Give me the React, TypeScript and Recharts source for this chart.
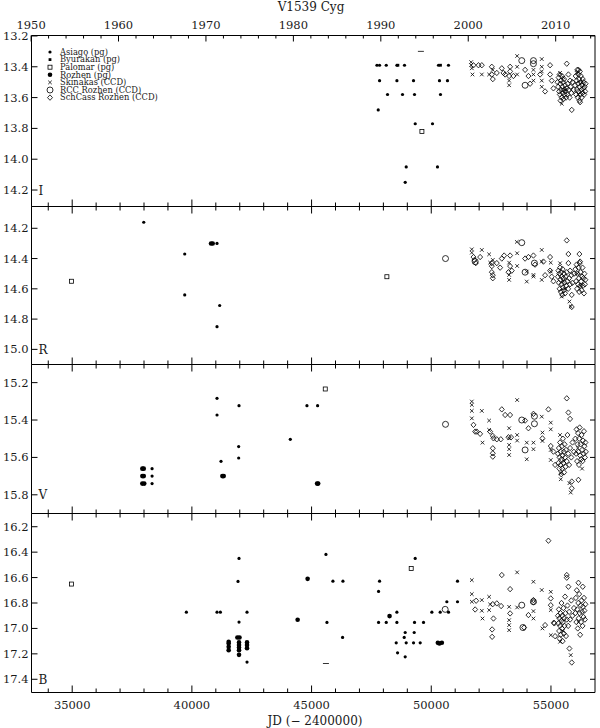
import React from 'react';
import { ScatterChart, Scatter, XAxis, YAxis } from 'recharts';

type Pt = [number, number];

// axis ticks
const JD_TICKS = [34000, 35000, 36000, 37000, 38000, 39000, 40000, 41000, 42000, 43000, 44000, 45000,
  46000, 47000, 48000, 49000, 50000, 51000, 52000, 53000, 54000, 55000, 56000];
const JD_LABELS = [35000, 40000, 45000, 50000, 55000];
const YEAR_TICKS = [1950, 1952, 1954, 1956, 1958, 1960, 1962, 1964, 1966, 1968, 1970, 1972, 1974, 1976,
  1978, 1980, 1982, 1984, 1986, 1988, 1990, 1992, 1994, 1996, 1998, 2000, 2002, 2004, 2006, 2008, 2010, 2012, 2014];
const YEAR_LABELS = [1950, 1960, 1970, 1980, 1990, 2000, 2010];
const I_TICKS = [13.2, 13.4, 13.6, 13.8, 14.0, 14.2];
const R_TICKS = [14.2, 14.4, 14.6, 14.8, 15.0];
const V_TICKS = [15.2, 15.4, 15.6, 15.8];
const B_TICKS = [16.2, 16.4, 16.6, 16.8, 17.0, 17.2, 17.4];

// ---- I band
const iAsiago: Pt[] = [
  [47731, 13.39], [47840, 13.39], [48119, 13.39], [48565, 13.39], [48882, 13.39], [50302, 13.39], [50719, 13.39],
  [47840, 13.49], [48565, 13.49], [49258, 13.49], [50343, 13.49], [50677, 13.49],
  [48173, 13.58], [48799, 13.58], [49300, 13.58], [50385, 13.58],
  [47785, 13.68], [49330, 13.77], [50052, 13.77], [48953, 14.05], [50260, 14.05], [48912, 14.15],
];
const iByurakan: Pt[] = [[48606, 13.39], [50385, 13.39]];
const iPalomar: Pt[] = [[49609, 13.82]];
const iLimit: Pt[] = [[49567, 13.3]];
const iSkinakas: Pt[] = [
  [51666, 13.37], [51666, 13.39], [51694, 13.41], [51722, 13.45], [52112, 13.45], [52417, 13.45], [52571, 13.42],
  [53253, 13.49], [53253, 13.52], [53587, 13.33], [53587, 13.4], [53587, 13.45], [54268, 13.42], [54268, 13.45],
  [54268, 13.49], [54616, 13.35], [54616, 13.4], [54616, 13.43], [54616, 13.49], [54616, 13.53], [55381, 13.44],
  [55451, 13.64], [55520, 13.47], [55590, 13.55], [56077, 13.44], [56147, 13.58], [56286, 13.5],
];
const iRcc: Pt[] = [[53781, 13.36], [54268, 13.36], [54268, 13.38], [53920, 13.52]];
const iSchCass: Pt[] = [
  [51764, 13.39], [51972, 13.39], [52112, 13.39], [52529, 13.4], [52529, 13.45], [52571, 13.48], [52738, 13.44],
  [52947, 13.41], [53016, 13.44], [53086, 13.45], [53294, 13.4], [53294, 13.43], [53253, 13.46], [53433, 13.46],
  [53920, 13.42], [54060, 13.46], [54129, 13.51], [54546, 13.45], [54755, 13.56], [54964, 13.39], [54964, 13.45],
  [55033, 13.49], [55103, 13.54], [55660, 13.38], [55729, 13.45], [55799, 13.49], [55869, 13.68], [56147, 13.42],
  [56217, 13.63],
  [55270, 13.5], [55300, 13.53], [55320, 13.47], [55340, 13.56], [55360, 13.45], [55370, 13.58], [55390, 13.51],
  [55400, 13.62], [55420, 13.49], [55430, 13.55], [55450, 13.6], [55460, 13.46], [55480, 13.53], [55490, 13.57],
  [55510, 13.5], [55520, 13.61], [55540, 13.55], [55550, 13.48], [55570, 13.58], [55590, 13.52], [55610, 13.56],
  [55630, 13.6], [55650, 13.54], [55680, 13.58], [55700, 13.51], [55750, 13.55], [55780, 13.6], [55820, 13.53],
  [55850, 13.57], [55900, 13.5], [55950, 13.55],
  [56010, 13.52], [56030, 13.46], [56050, 13.58], [56070, 13.49], [56090, 13.55], [56100, 13.42], [56120, 13.6],
  [56130, 13.51], [56150, 13.45], [56160, 13.56], [56180, 13.48], [56190, 13.62], [56200, 13.53], [56210, 13.43],
  [56230, 13.58], [56240, 13.5], [56250, 13.46], [56270, 13.55], [56280, 13.6], [56300, 13.52], [56320, 13.57],
  [56330, 13.48], [56350, 13.54], [56370, 13.5], [56390, 13.58], [56410, 13.53], [56430, 13.56], [56450, 13.51],
];

// ---- R band
const rAsiago: Pt[] = [[37990, 14.16], [39701, 14.37], [39701, 14.64], [41050, 14.3], [41162, 14.71], [41050, 14.85]];
const rRozhen: Pt[] = [[40800, 14.3], [40870, 14.3]];
const rPalomar: Pt[] = [[34971, 14.55], [48146, 14.52]];
const rRcc: Pt[] = [[50595, 14.4], [51833, 14.42], [53781, 14.295], [53920, 14.49], [54310, 14.43]];
const rSkinakas: Pt[] = [
  [51694, 14.339], [51694, 14.361], [52112, 14.343], [52417, 14.372], [52459, 14.427], [52571, 14.409],
  [53253, 14.427], [53253, 14.508], [53253, 14.541], [53573, 14.29], [53587, 14.365], [53587, 14.449],
  [53990, 14.486], [53990, 14.552], [54268, 14.508], [54268, 14.519], [54616, 14.343], [54616, 14.42],
  [54616, 14.541], [54992, 14.427], [54992, 14.486], [55381, 14.431], [55451, 14.651], [55771, 14.684],
  [55827, 14.717], [55500, 14.55], [55600, 14.6], [56100, 14.5], [56250, 14.58],
];
const rSchCass: Pt[] = [
  [51764, 14.39], [51800, 14.41], [51860, 14.43], [52042, 14.39], [52529, 14.43], [52529, 14.45], [52529, 14.49],
  [52571, 14.51], [52571, 14.53], [52738, 14.43], [52877, 14.46], [52947, 14.4], [53044, 14.38], [53294, 14.38],
  [53294, 14.45], [53225, 14.49], [53364, 14.48], [53920, 14.4], [54060, 14.39], [54268, 14.38], [54338, 14.44],
  [54685, 14.42], [54755, 14.51], [54964, 14.39], [54964, 14.48], [55033, 14.52], [55103, 14.55], [55660, 14.28],
  [55729, 14.37], [55729, 14.43], [55799, 14.48], [55869, 14.64], [55869, 14.72], [56189, 14.37], [56217, 14.42],
  [55290, 14.52], [55310, 14.48], [55330, 14.56], [55350, 14.5], [55360, 14.6], [55380, 14.46], [55400, 14.54],
  [55410, 14.62], [55430, 14.49], [55440, 14.57], [55460, 14.52], [55470, 14.64], [55490, 14.47], [55500, 14.59],
  [55520, 14.53], [55540, 14.61], [55550, 14.5], [55570, 14.56], [55590, 14.63], [55610, 14.52], [55630, 14.58],
  [55660, 14.49], [55690, 14.55], [55720, 14.6], [55760, 14.53], [55800, 14.57], [55850, 14.51], [55900, 14.56],
  [55960, 14.5],
  [56020, 14.47], [56050, 14.55], [56070, 14.44], [56090, 14.6], [56110, 14.5], [56130, 14.57], [56150, 14.46],
  [56170, 14.53], [56180, 14.62], [56200, 14.43], [56220, 14.58], [56240, 14.49], [56260, 14.55], [56280, 14.61],
  [56300, 14.52], [56320, 14.46], [56340, 14.58], [56360, 14.53], [56380, 14.63], [56400, 14.5], [56420, 14.57],
  [56440, 14.54],
];

// ---- V band
const vAsiago: Pt[] = [
  [38337, 15.66], [38337, 15.7], [38337, 15.74], [41050, 15.284], [41050, 15.373], [41969, 15.323], [41217, 15.621],
  [41955, 15.542], [41955, 15.603], [44111, 15.503], [44807, 15.323], [45252, 15.323],
];
const vRozhen: Pt[] = [
  [37930, 15.66], [37990, 15.66], [37930, 15.7], [37990, 15.7], [37930, 15.74], [38010, 15.74],
  [41273, 15.7], [41329, 15.7], [45230, 15.74], [45275, 15.74],
];
const vPalomar: Pt[] = [[45572, 15.234]];
const vRcc: Pt[] = [[50595, 15.423], [53781, 15.4], [53920, 15.56], [54310, 15.38], [54310, 15.42]];
const vSkinakas: Pt[] = [
  [51694, 15.301], [51694, 15.319], [51694, 15.351], [51694, 15.391], [52112, 15.351], [52140, 15.521],
  [52417, 15.403], [52417, 15.453], [53253, 15.444], [53253, 15.498], [53253, 15.533], [53253, 15.556],
  [53253, 15.587], [53587, 15.293], [53587, 15.48], [53587, 15.51], [53990, 15.521], [53990, 15.61],
  [54268, 15.521], [54268, 15.556], [54616, 15.382], [54644, 15.467], [54644, 15.512], [54992, 15.414],
  [54992, 15.45], [54992, 15.56], [54992, 15.614], [55381, 15.48], [55409, 15.685], [55409, 15.717],
  [55771, 15.738], [55827, 15.788], [55550, 15.62], [56120, 15.55], [56300, 15.66],
];
const vSchCass: Pt[] = [
  [51764, 15.426], [51833, 15.462], [51903, 15.462], [52042, 15.474], [52459, 15.462], [52571, 15.485],
  [52598, 15.498], [52571, 15.551], [52571, 15.578], [52571, 15.596], [52738, 15.503], [52905, 15.503],
  [52947, 15.343], [53086, 15.373], [53294, 15.373], [53225, 15.492], [53336, 15.492], [53920, 15.403],
  [54060, 15.444], [54268, 15.367], [54644, 15.498], [54894, 15.343], [54992, 15.539], [55103, 15.569],
  [55173, 15.64], [55660, 15.284], [55729, 15.36], [55799, 15.394], [55869, 15.729], [55869, 15.765], [56147, 15.72],
  [55290, 15.58], [55310, 15.63], [55330, 15.55], [55350, 15.66], [55360, 15.6], [55380, 15.52], [55400, 15.64],
  [55410, 15.57], [55430, 15.69], [55440, 15.61], [55460, 15.54], [55470, 15.66], [55490, 15.59], [55500, 15.5],
  [55520, 15.63], [55540, 15.57], [55550, 15.68], [55570, 15.53], [55590, 15.6], [55610, 15.65], [55630, 15.56],
  [55660, 15.62], [55690, 15.48], [55720, 15.58], [55760, 15.64], [55800, 15.55], [55850, 15.6], [55900, 15.52],
  [55960, 15.57],
  [56020, 15.5], [56050, 15.58], [56070, 15.45], [56090, 15.62], [56110, 15.53], [56130, 15.47], [56150, 15.57],
  [56170, 15.64], [56180, 15.5], [56200, 15.44], [56220, 15.59], [56240, 15.53], [56260, 15.61], [56280, 15.48],
  [56300, 15.56], [56320, 15.62], [56340, 15.51], [56360, 15.58], [56380, 15.46], [56400, 15.54], [56420, 15.6],
  [56440, 15.52], [56460, 15.57],
];

// ---- B band
const bAsiago: Pt[] = [
  [39770, 16.872], [41050, 16.872], [41190, 16.872], [41969, 16.449], [41927, 16.63], [42303, 16.872],
  [41969, 16.95], [42303, 17.265], [45600, 16.418], [45892, 16.628], [46310, 16.628], [45642, 16.953],
  [46296, 17.071], [49329, 16.449], [47840, 16.628], [47799, 16.709], [47799, 16.953], [48119, 16.953],
  [48564, 16.953], [48564, 16.872], [48536, 17.113], [48592, 17.192], [48911, 17.032], [48870, 17.071],
  [48953, 17.113], [49259, 17.113], [49538, 17.113], [48911, 17.223], [49301, 16.953], [49677, 16.953],
  [49287, 17.032], [50025, 16.872], [50373, 16.872], [50651, 16.79], [50720, 16.872], [51096, 16.79], [51096, 16.628],
];
const bRozhen: Pt[] = [
  [41537, 17.105], [41537, 17.118], [41537, 17.145], [41537, 17.171], [41900, 17.071], [41990, 17.071],
  [41969, 17.11], [41969, 17.131], [41969, 17.15], [41969, 17.171], [41969, 17.208], [42303, 17.11],
  [42303, 17.131], [42303, 17.155], [44418, 16.932], [44835, 16.61], [48258, 16.903], [50275, 17.113],
  [50340, 17.118], [50442, 17.113],
];
const bPalomar: Pt[] = [[34971, 16.651], [49162, 16.528]];
const bLimit: Pt[] = [[45600, 17.276]];
const bRcc: Pt[] = [[50581, 16.85], [53781, 16.817], [53830, 16.993], [54268, 16.79]];
const bSkinakas: Pt[] = [
  [51694, 16.62], [51694, 16.73], [51694, 16.79], [52112, 16.777], [52112, 16.861], [52140, 16.922],
  [52417, 16.751], [52417, 16.856], [52459, 16.811], [53253, 16.83], [53253, 16.935], [53253, 16.974],
  [53253, 17.014], [53587, 16.559], [53587, 16.835], [54268, 16.633], [54268, 16.864], [54268, 16.922],
  [54616, 16.698], [54644, 17.0], [54992, 16.712], [54992, 16.856], [54992, 17.053], [55381, 17.105],
  [55827, 17.21], [55500, 17.02], [56150, 16.95],
];
const bSchCass: Pt[] = [
  [51833, 16.851], [51875, 16.782], [52571, 16.809], [52598, 16.922], [52543, 17.008], [52543, 17.066],
  [52738, 16.803], [52919, 16.824], [52947, 16.58], [53294, 16.691], [53294, 16.882], [53878, 16.993],
  [54060, 16.895], [54268, 16.777], [54268, 16.795], [54755, 16.974], [54894, 16.31], [54992, 16.764],
  [54992, 16.817], [55120, 16.955], [55140, 16.96], [55173, 17.061], [55660, 16.58], [55660, 16.601],
  [55729, 16.672], [55771, 17.158], [55869, 17.268], [56147, 16.641], [56328, 16.672],
  [55290, 16.9], [55310, 16.96], [55330, 16.85], [55340, 17.02], [55350, 16.92], [55360, 17.08], [55380, 16.98],
  [55400, 16.88], [55410, 17.05], [55430, 16.94], [55440, 16.8], [55460, 17.0], [55470, 16.9], [55490, 17.1],
  [55500, 16.95], [55520, 16.84], [55540, 17.04], [55550, 16.92], [55570, 16.98], [55590, 16.75], [55610, 16.88],
  [55630, 17.06], [55660, 16.93], [55690, 16.82], [55720, 16.98], [55760, 16.87], [55800, 16.93], [55850, 16.78],
  [55900, 16.9], [55960, 16.84],
  [56020, 16.88], [56040, 16.76], [56060, 16.95], [56080, 16.7], [56100, 16.85], [56120, 17.0], [56140, 16.8],
  [56160, 16.92], [56180, 16.73], [56200, 16.88], [56220, 17.05], [56240, 16.82], [56260, 16.95], [56280, 16.78],
  [56300, 16.87], [56320, 16.98], [56340, 16.83], [56360, 16.91], [56380, 16.76], [56400, 16.86], [56420, 16.93],
  [56440, 16.81],
];

const LEGEND: [string, string][] = [
  ['asiago', 'Asiago (pg)'],
  ['byurakan', 'Byurakan (pg)'],
  ['palomar', 'Palomar (pg)'],
  ['rozhen', 'Rozhen (pg)'],
  ['skinakas', 'Skinakas (CCD)'],
  ['rcc', 'RCC Rozhen (CCD)'],
  ['schcass', 'SchCass Rozhen (CCD)'],
];

const W = 600;
const H = 728;
const JD_DOMAIN = [33300, 56840];
const FONT = "'DejaVu Serif', 'Liberation Serif', serif";
const INK = '#000';
const TXT = '#1a1a1a';

const jdOfYear = (y: number) => 33282.5 + (y - 1950) * 365.25;
const yearOfJd = (jd: number) => Math.round(1950 + (jd - 33282.5) / 365.25);

const SHAPES: Record<string, (x: number, y: number) => React.ReactElement> = {
  asiago: (x, y) => <circle cx={x} cy={y} r={1.6} fill={INK} />,
  byurakan: (x, y) => <rect x={x - 1.4} y={y - 1.4} width={2.8} height={2.8} fill={INK} />,
  palomar: (x, y) => <rect x={x - 2} y={y - 2} width={4} height={4} fill="none" stroke={INK} strokeWidth={0.8} />,
  rozhen: (x, y) => <circle cx={x} cy={y} r={2.3} fill={INK} />,
  skinakas: (x, y) => (
    <path d={`M${x - 1.8},${y - 1.8}L${x + 1.8},${y + 1.8}M${x - 1.8},${y + 1.8}L${x + 1.8},${y - 1.8}`} stroke={INK} strokeWidth={0.8} />
  ),
  rcc: (x, y) => <circle cx={x} cy={y} r={3} fill="none" stroke={INK} strokeWidth={0.8} />,
  schcass: (x, y) => (
    <path d={`M${x},${y - 2.7}L${x + 2.5},${y}L${x},${y + 2.7}L${x - 2.5},${y}Z`} fill="none" stroke={INK} strokeWidth={0.8} />
  ),
  limit: (x, y) => <line x1={x - 3} x2={x + 3} y1={y} y2={y} stroke={INK} strokeWidth={0.8} />,
};

const PANELS = [
  {
    band: 'I', top: 35.5, bottom: 206.5, domain: [13.197, 14.307], ticks: I_TICKS,
    series: { asiago: iAsiago, byurakan: iByurakan, palomar: iPalomar, limit: iLimit, skinakas: iSkinakas, rcc: iRcc, schcass: iSchCass } as Record<string, Pt[]>,
  },
  {
    band: 'R', top: 206.5, bottom: 364.5, domain: [14.056, 15.1], ticks: R_TICKS,
    series: { asiago: rAsiago, rozhen: rRozhen, palomar: rPalomar, skinakas: rSkinakas, rcc: rRcc, schcass: rSchCass } as Record<string, Pt[]>,
  },
  {
    band: 'V', top: 364.5, bottom: 513.5, domain: [15.103, 15.9], ticks: V_TICKS,
    series: { asiago: vAsiago, rozhen: vRozhen, palomar: vPalomar, skinakas: vSkinakas, rcc: vRcc, schcass: vSchCass } as Record<string, Pt[]>,
  },
  {
    band: 'B', top: 513.5, bottom: 692.5, domain: [16.096, 17.504], ticks: B_TICKS,
    series: { asiago: bAsiago, rozhen: bRozhen, palomar: bPalomar, limit: bLimit, skinakas: bSkinakas, rcc: bRcc, schcass: bSchCass } as Record<string, Pt[]>,
  },
];

const txt = { fontFamily: FONT, fill: TXT } as const;

function Panel({ p, first, last }: { p: typeof PANELS[number]; first: boolean; last: boolean }) {
  const bottomTick = (t: any) => {
    const v = t.payload.value;
    const major = v % 5000 === 0;
    return (
      <g>
        <line x1={t.x} x2={t.x} y1={t.y} y2={t.y - (major ? 7 : 4)} stroke={INK} />
        {last && JD_LABELS.includes(v) && (
          <text x={t.x} y={t.y + 16} textAnchor="middle" fontSize={11.5} {...txt}>{v}</text>
        )}
      </g>
    );
  };
  const topTick = (t: any) => {
    const v = t.payload.value;
    if (first) {
      const yr = yearOfJd(v);
      const major = yr % 10 === 0;
      return (
        <g>
          <line x1={t.x} x2={t.x} y1={t.y} y2={t.y + (major ? 6 : 3)} stroke={INK} />
          {YEAR_LABELS.includes(yr) && (
            <text x={t.x} y={t.y - 7} textAnchor="middle" fontSize={11.5} {...txt}>{yr}</text>
          )}
        </g>
      );
    }
    const major = v % 5000 === 0;
    return <line x1={t.x} x2={t.x} y1={t.y} y2={t.y + (major ? 7 : 4)} stroke={INK} />;
  };
  const leftTick = (t: any) => {
    const v = t.payload.value;
    const isLast = v === p.ticks[p.ticks.length - 1];
    return (
      <g>
        <line x1={t.x} x2={t.x + 6} y1={t.y} y2={t.y} stroke={INK} />
        <text x={t.x - 3} y={t.y + 4} textAnchor="end" fontSize={11.5} {...txt}>{v.toFixed(1)}</text>
        {isLast && <text x={t.x + 7} y={t.y + 4.5} fontSize={12} {...txt}>{p.band}</text>}
      </g>
    );
  };
  const rightTick = (t: any) => <line x1={t.x} x2={t.x - 5} y1={t.y} y2={t.y} stroke={INK} />;

  const topTicks = first ? YEAR_TICKS.map(jdOfYear) : JD_TICKS;

  // axes get a 1px band so that they are drawn; margins absorb it
  return (
    <div style={{ position: 'absolute', left: 0, top: 0 }}>
      <ScatterChart width={W} height={H} margin={{ top: p.top - 1, bottom: H - p.bottom - 1, left: 0, right: 4 }}>
        <XAxis xAxisId="b" type="number" dataKey="jd" domain={JD_DOMAIN} allowDataOverflow ticks={JD_TICKS}
          interval={0} height={1} tickSize={0} tickMargin={0} tickLine={false} axisLine={{ stroke: INK }} tick={bottomTick} />
        <XAxis xAxisId="t" orientation="top" type="number" dataKey="jd" domain={JD_DOMAIN} allowDataOverflow ticks={topTicks}
          interval={0} height={1} tickSize={0} tickMargin={0} tickLine={false} axisLine={{ stroke: INK }} tick={topTick} />
        <YAxis yAxisId="l" type="number" dataKey="mag" domain={p.domain} reversed allowDataOverflow ticks={p.ticks}
          interval={0} width={31.5} tickSize={0} tickMargin={0} tickLine={false} axisLine={{ stroke: INK }} tick={leftTick} />
        <YAxis yAxisId="r" orientation="right" type="number" dataKey="mag" domain={p.domain} reversed allowDataOverflow ticks={p.ticks}
          interval={0} width={1} tickSize={0} tickMargin={0} tickLine={false} axisLine={{ stroke: INK }} tick={rightTick} />
        {Object.entries(p.series).map(([key, pts]) => (
          <Scatter
            key={key}
            name={key}
            xAxisId="b"
            yAxisId="l"
            data={pts.map(([jd, mag]) => ({ jd, mag }))}
            isAnimationActive={false}
            shape={(s: any) => SHAPES[key](s.cx, s.cy)}
          />
        ))}
      </ScatterChart>
    </div>
  );
}

export default function App() {
  return (
    <div style={{ position: 'absolute', left: 0, top: 0, width: W, height: H, background: '#fff' }}>
      {PANELS.map((p, i) => (
        <Panel key={p.band} p={p} first={i === 0} last={i === PANELS.length - 1} />
      ))}
      <svg width={W} height={H} style={{ position: 'absolute', left: 0, top: 0, pointerEvents: 'none' }}>
        <text x={311} y={11} textAnchor="middle" fontSize={12} {...txt}>V1539 Cyg</text>
        <text x={315} y={725} textAnchor="middle" fontSize={12} {...txt}>JD (− 2400000)</text>
        {LEGEND.map(([key, label], i) => (
          <g key={key}>
            {SHAPES[key](50, 52 + i * 7.6)}
            <text x={60} y={54.8 + i * 7.6} fontSize={8.3} {...txt}>{label}</text>
          </g>
        ))}
      </svg>
    </div>
  );
}
